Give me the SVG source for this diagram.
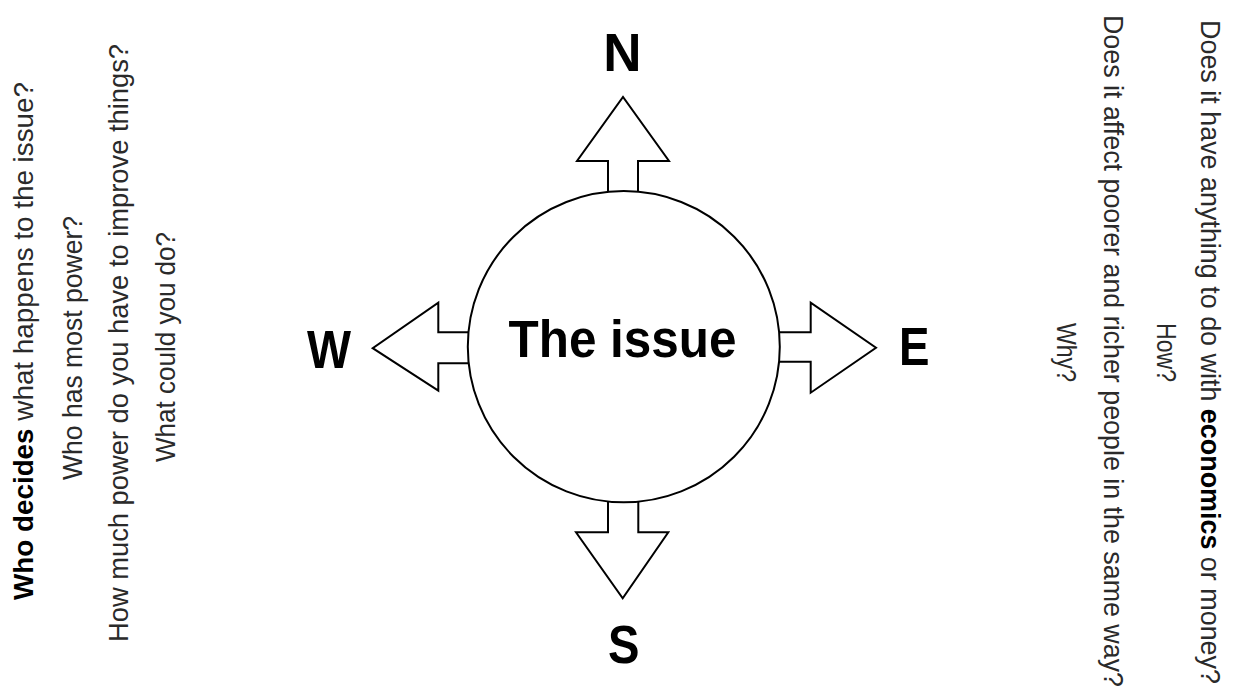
<svg xmlns="http://www.w3.org/2000/svg" width="1238" height="696" viewBox="0 0 1238 696">
<style>
.q{font-family:"Liberation Sans",Arial,sans-serif;font-size:28px;fill:#2a2a2a}
.b{font-weight:bold;fill:#000}
.dir{font-family:"Liberation Sans",Arial,sans-serif;font-size:53px;font-weight:bold;fill:#000;text-anchor:middle}
.arr{fill:#fff;stroke:#000;stroke-width:2;stroke-linejoin:miter}
</style>
<rect width="1238" height="696" fill="#fff"/>
<g id="connectors">
<polygon class="arr" points="608,200 608,161 577,161 623,97 669,161 638,161 638,200"/>
<polygon class="arr" points="608,495 608,532.3 576,532.3 622.7,598.3 668.3,532.3 638.3,532.3 638.3,495"/>
<polygon class="arr" points="475,332.3 438.3,332.3 438.3,302.7 372.7,348.2 438.3,390.7 438.3,363.3 475,363.3"/>
<polygon class="arr" points="772,332.3 810.7,332.3 810.7,302.7 876,347.7 810.7,392.7 810.7,361.7 772,361.7"/>
</g>
<g id="issue">
<ellipse cx="623.8" cy="346.7" rx="156" ry="155.6" fill="#fff" stroke="#000" stroke-width="2"/>
<text x="622.5" y="357.3" font-family="Liberation Sans, Arial, sans-serif" font-size="51" font-weight="bold" text-anchor="middle" textLength="228" lengthAdjust="spacingAndGlyphs">The issue</text>
</g>
<g id="north"><text class="dir" x="622.5" y="70.7">N</text></g>
<g id="south"><text class="dir" x="623.7" y="662.5" textLength="31.5" lengthAdjust="spacingAndGlyphs">S</text></g>
<g id="west"><text class="dir" x="329" y="368.3" textLength="44" lengthAdjust="spacingAndGlyphs">W</text></g>
<g id="east"><text class="dir" x="914.2" y="365" textLength="30.5" lengthAdjust="spacingAndGlyphs">E</text></g>
<g id="west-questions">
<text class="q" transform="translate(33.3,341) rotate(-90)" text-anchor="middle" textLength="518" lengthAdjust="spacingAndGlyphs"><tspan class="b">Who decides</tspan> what happens to the issue?</text>
<text class="q" transform="translate(81.7,348) rotate(-90)" text-anchor="middle" textLength="264" lengthAdjust="spacingAndGlyphs">Who has most power?</text>
<text class="q" transform="translate(128.3,343) rotate(-90)" text-anchor="middle" textLength="598" lengthAdjust="spacingAndGlyphs">How much power do you have to improve things?</text>
<text class="q" transform="translate(175,347) rotate(-90)" text-anchor="middle" textLength="230" lengthAdjust="spacingAndGlyphs">What could you do?</text>
</g>
<g id="east-questions">
<text class="q" transform="translate(1201,352) rotate(90)" text-anchor="middle" textLength="664" lengthAdjust="spacingAndGlyphs">Does it have anything to do with <tspan class="b">economics</tspan> or money?</text>
<text class="q" transform="translate(1156.7,352.5) rotate(90)" text-anchor="middle" textLength="59" lengthAdjust="spacingAndGlyphs">How?</text>
<text class="q" font-size="27" transform="translate(1104,351) rotate(90)" text-anchor="middle" textLength="672" lengthAdjust="spacingAndGlyphs" style="font-size:27px">Does it affect poorer and richer people in the same way?</text>
<text class="q" transform="translate(1057,352.5) rotate(90)" text-anchor="middle" textLength="59" lengthAdjust="spacingAndGlyphs">Why?</text>
</g>
</svg>
